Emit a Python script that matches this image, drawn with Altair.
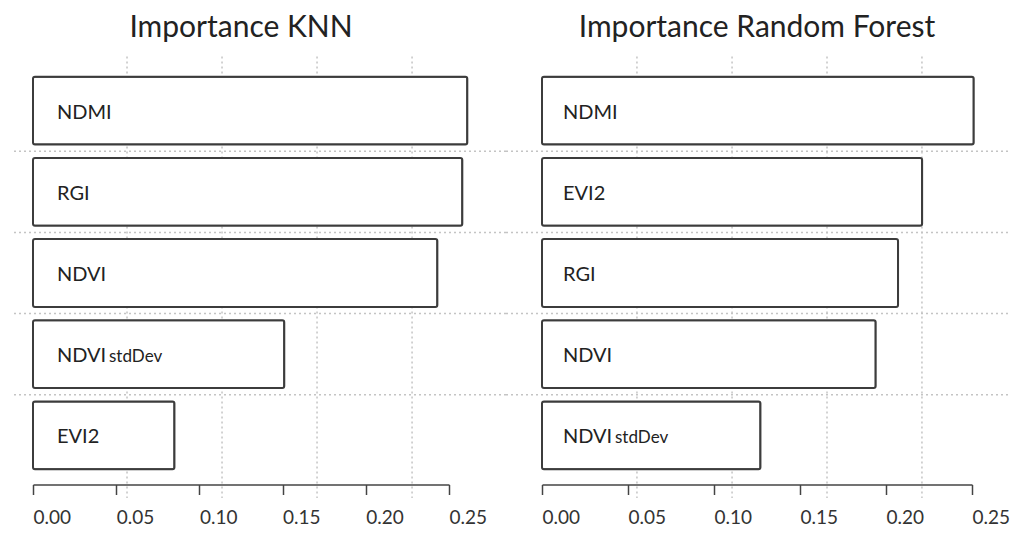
import altair as alt
import pandas as pd

# ---- data ----
knn_features = ["NDMI", "RGI", "NDVI", "NDVI stdDev", "EVI2"]
knn_values = [0.261, 0.258, 0.243, 0.151, 0.085]

rf_features = ["NDMI", "EVI2", "RGI", "NDVI", "NDVI stdDev"]
rf_values = [0.251, 0.221, 0.207, 0.194, 0.127]

x_ticks = [0.0, 0.05, 0.10, 0.15, 0.20, 0.25]

# decorative dotted background grid (value positions in each panel)
knn_grid = [0.0565, 0.1136, 0.1707, 0.2278]
rf_grid = [0.0552, 0.1105, 0.1657, 0.2209]

PLOT_H = 406
FONT = "Lato"
GRID_COLOR = "#c4c4c4"


def panel(features, values, grid, title, width, label_dx, hleft, hright):
    main = [f.split(" ")[0] for f in features]
    suffix = [f.split(" ", 1)[1] if " " in f else "" for f in features]
    df = pd.DataFrame({"feature": features, "value": values,
                       "main": main, "suffix": suffix})

    xscale = alt.Scale(domain=[0, 0.25], nice=False, zero=True)
    yscale = alt.Scale(paddingInner=0, paddingOuter=0)
    xaxis = alt.Axis(values=x_ticks, format=".2f", title=None, grid=False,
                     domainColor="#444", domainWidth=1.5,
                     tickColor="#444", tickWidth=1.5, tickSize=10,
                     labelAlign="left", labelFont=FONT, labelFontSize=19,
                     labelColor="#333", labelPadding=14, offset=8.5,
                     labelFlush=False, labelOverlap=False)

    vgrid = alt.Chart(pd.DataFrame({"value": grid})).mark_rule(
        color=GRID_COLOR, strokeDash=[2, 3], strokeWidth=1.5
    ).encode(
        x=alt.X("value:Q", scale=xscale, axis=xaxis),
        y=alt.value(-13.5),
        y2=alt.value(PLOT_H + 22),
    )

    hgrid = alt.Chart(pd.DataFrame({"feature": features[1:]})).mark_rule(
        color=GRID_COLOR, strokeDash=[2, 3], strokeWidth=1.5
    ).encode(
        y=alt.Y("feature:N", sort=features, axis=None, scale=yscale,
                bandPosition=0),
        x=alt.value(hleft),
        x2=alt.value(width + hright),
    )

    bars = alt.Chart(df).mark_bar(
        fill="white", stroke="#3c3c3c", strokeWidth=2, cornerRadius=2,
        height={"band": 0.835}
    ).encode(
        x=alt.X("value:Q", scale=xscale),
        y=alt.Y("feature:N", sort=features, axis=None, scale=yscale),
    )

    text_main = alt.Chart(df).mark_text(
        align="left", baseline="middle", dx=label_dx, dy=2,
        font=FONT, fontSize=20, color="#222"
    ).encode(
        x=alt.datum(0),
        y=alt.Y("feature:N", sort=features, axis=None, scale=yscale),
        text="main:N",
    )

    text_suffix = alt.Chart(df).mark_text(
        align="left", baseline="middle", dx=label_dx + 52, dy=3,
        font=FONT, fontSize=17, color="#222"
    ).encode(
        x=alt.datum(0),
        y=alt.Y("feature:N", sort=features, axis=None, scale=yscale),
        text="suffix:N",
    )

    return alt.layer(vgrid, hgrid, bars, text_main, text_suffix).properties(
        width=width, height=PLOT_H,
        title=alt.TitleParams(text=title, font=FONT, fontSize=30,
                              fontWeight="normal", color="#222",
                              anchor="middle", frame="group",
                              baseline="alphabetic", offset=-11.5),
    )


left = panel(knn_features, knn_values, knn_grid, "Importance KNN",
             416, 24, -19, 57)
right = panel(rf_features, rf_values, rf_grid, "Importance Random Forest",
              430, 21, -36, 37)

chart = alt.hconcat(left, right, spacing=93, bounds="flush").configure_view(
    stroke=None
).properties(
    background="white",
    padding={"left": 5, "right": 2, "top": 5, "bottom": 5},
)

chart.save("out.html", embed_options={"renderer": "svg", "actions": False})
